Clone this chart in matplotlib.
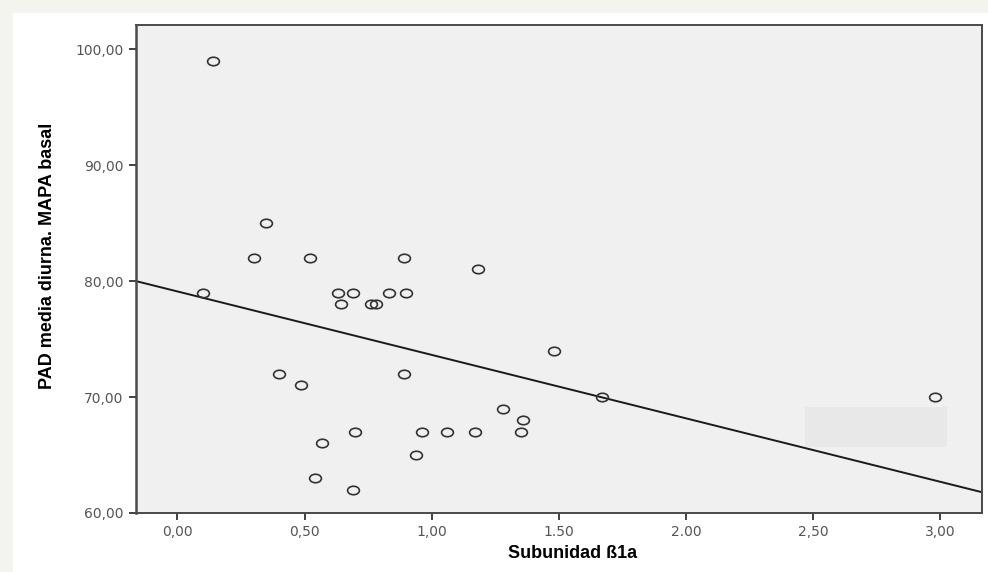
import matplotlib.pyplot as plt
import numpy as np
from matplotlib.path import Path
from matplotlib.patches import Rectangle
from matplotlib.transforms import Affine2D

# Points
beta1a = [0.14, 0.10, 0.30, 0.35, 0.40, 0.485, 0.52, 0.57, 0.54,
          0.63, 0.645, 0.69, 0.69, 0.70, 0.76, 0.78, 0.83, 0.89,
          0.89, 0.90, 0.94, 0.96, 1.06, 1.17, 1.18, 1.28, 1.35,
          1.36, 1.48, 1.67, 2.98]
pad = [99, 79, 82, 85, 72, 71, 82, 66, 63,
       79, 78, 79, 62, 67, 78, 78, 79, 82,
       72, 79, 65, 67, 67, 67, 81, 69, 67,
       68, 74, 70, 70]

# fitted line
fit_intercept = 79.1
fit_slope = -5.47

x_ticks = [0.0, 0.5, 1.0, 1.5, 2.0, 2.5, 3.0]
x_tick_labels = ['0,00', '0,50', '1,00', '1.50', '2.00', '2,50', '3,00']
y_ticks = [60, 70, 80, 90, 100]
y_tick_labels = ['60,00', '70,00', '80,00', '90,00', '100,00']

# faint box in the lower right corner
box_x = (2.467, 3.025)
box_y = (65.72, 69.14)

xlim = (-0.163, 3.164)
ylim = (60, 102.07)


def main():
    fig = plt.figure(figsize=(9.88, 5.72), dpi=100, facecolor='#f4f4ef')
    # white page inside the faint frame
    page = Rectangle((13 / 988, 0), 1, 1 - 13 / 572,
                     transform=fig.transFigure, facecolor='white',
                     edgecolor='none', zorder=-10)
    fig.patches.append(page)

    ax = fig.add_axes([136 / 988, 59 / 572, 846 / 988, 488 / 572])
    ax.set_zorder(1)
    ax.set_facecolor('#f0f0f0')

    ax.add_patch(Rectangle((box_x[0], box_y[0]), box_x[1] - box_x[0],
                           box_y[1] - box_y[0], facecolor='#e8e8e8',
                           edgecolor='none', zorder=1))

    xs = np.array(xlim)
    ax.plot(xs, fit_intercept + fit_slope * xs, color='#1a1a1a', lw=1.4,
            zorder=2)

    ellipse = Path.unit_circle().transformed(Affine2D().scale(1.0, 0.72))
    ax.plot(beta1a, pad, linestyle='none', marker=ellipse, markersize=8.5,
            markerfacecolor='none', markeredgecolor='#333333',
            markeredgewidth=1.2, zorder=3)

    ax.set_xlim(*xlim)
    ax.set_ylim(*ylim)
    ax.set_xticks(x_ticks)
    ax.set_xticklabels(x_tick_labels)
    ax.set_yticks(y_ticks)
    ax.set_yticklabels(y_tick_labels)

    for sp in ax.spines.values():
        sp.set_color('#4a4a4a')
        sp.set_linewidth(1.4)
    ax.spines['left'].set_linewidth(1.8)
    ax.tick_params(direction='out', length=5, width=1.3, color='#333333',
                   labelcolor='#555555', labelsize=10, pad=4)

    ax.set_xlabel('Subunidad ß1a', fontsize=13, fontweight='bold',
                  family='Liberation Sans', color='black')
    ax.set_ylabel('PAD media diurna. MAPA basal', fontsize=13,
                  fontweight='bold', family='Liberation Sans', color='black')
    ax.xaxis.set_label_coords(0.5165, -0.082)
    ax.yaxis.set_label_coords(-0.105, 0.527)
    ax.xaxis.label.set_va('center')
    ax.yaxis.label.set_va('center')

    fig.savefig('out.png', dpi=100, facecolor=fig.get_facecolor())


if __name__ == '__main__':
    main()
